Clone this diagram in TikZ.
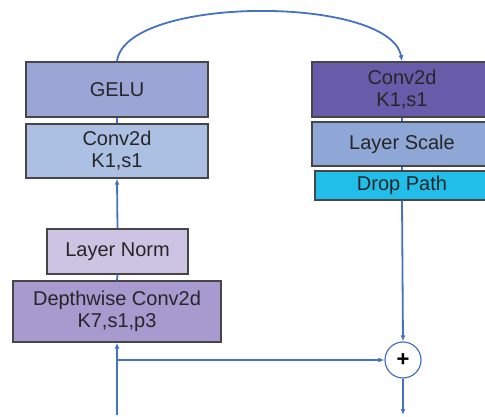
\documentclass[tikz,border=0pt]{standalone}
\usepackage{fontspec}
\setmainfont{Liberation Sans}
\usetikzlibrary{arrows.meta}
\definecolor{cgelu}{RGB}{156,166,214}
\definecolor{cconvl}{RGB}{172,192,228}
\definecolor{cconvr}{RGB}{104,92,170}
\definecolor{cscale}{RGB}{142,167,214}
\definecolor{cdrop}{RGB}{32,190,232}
\definecolor{cnorm}{RGB}{205,196,228}
\definecolor{cdw}{RGB}{168,153,206}
\definecolor{cline}{RGB}{68,114,196}
\definecolor{cborder}{RGB}{70,70,70}
\tikzset{
  blk/.style={draw=cborder, line width=1.3pt, align=center, inner sep=0pt,
    font=\fontsize{20}{22}\selectfont, text=black!85},
  conn/.style={draw=cline, line width=1.8pt},
  arr/.style={conn, -{Latex[length=6pt,width=5pt]}}
}
\begin{document}
\begin{tikzpicture}[x=1pt,y=-1pt]
\useasboundingbox (0,0) rectangle (485,417);
\clip (0,0) rectangle (485,417);
% left column
\node[blk, fill=cgelu, minimum width=182pt, minimum height=55pt] (gelu) at (117,89.5) {GELU};
\node[blk, fill=cconvl, minimum width=182pt, minimum height=54pt] (convl) at (117,151) {Conv2d\\K1,s1};
\node[blk, fill=cnorm, minimum width=141pt, minimum height=45pt] (norm) at (117.5,251.5) {Layer Norm};
\node[blk, fill=cdw, minimum width=208pt, minimum height=61pt] (dw) at (117,311.5) {Depthwise Conv2d\\K7,s1,p3};
% right column
\node[blk, fill=cconvr, minimum width=180pt, minimum height=55pt] (convr) at (402,89.5) {Conv2d\\K1,s1};
\node[blk, fill=cscale, minimum width=180pt, minimum height=44pt] (scale) at (402,144) {Layer Scale};
\node[blk, fill=cdrop, minimum width=174pt, minimum height=29pt] (drop) at (402,185.5) {Drop Path};
\node[draw=cline, line width=1.2pt, circle, minimum size=36pt, inner sep=0pt,
      font=\fontsize{22}{22}\selectfont\bfseries] (plus) at (403,360) {+};
\coordinate (in) at (117,415);
\coordinate (br) at (117,360);
\coordinate (out) at (403,415);
% connectors
\draw[arr] (in) -- (dw.south);
\draw[arr] (br) -- (plus.west);
\draw[conn] (dw.north) -- (norm.south);
\draw[arr] (norm.north) -- (convl.south);
\draw[conn] (convl.north) -- (gelu.south);
\draw[arr] (gelu.north) .. controls (125,-5) and (390,-5) .. (convr.north);
\draw[conn] (convr.south) -- (scale.north);
\draw[conn] (scale.south) -- (drop.north);
\draw[arr] (drop.south) -- (plus.north);
\draw[arr] (plus.south) -- (out);
\end{tikzpicture}
\end{document}
